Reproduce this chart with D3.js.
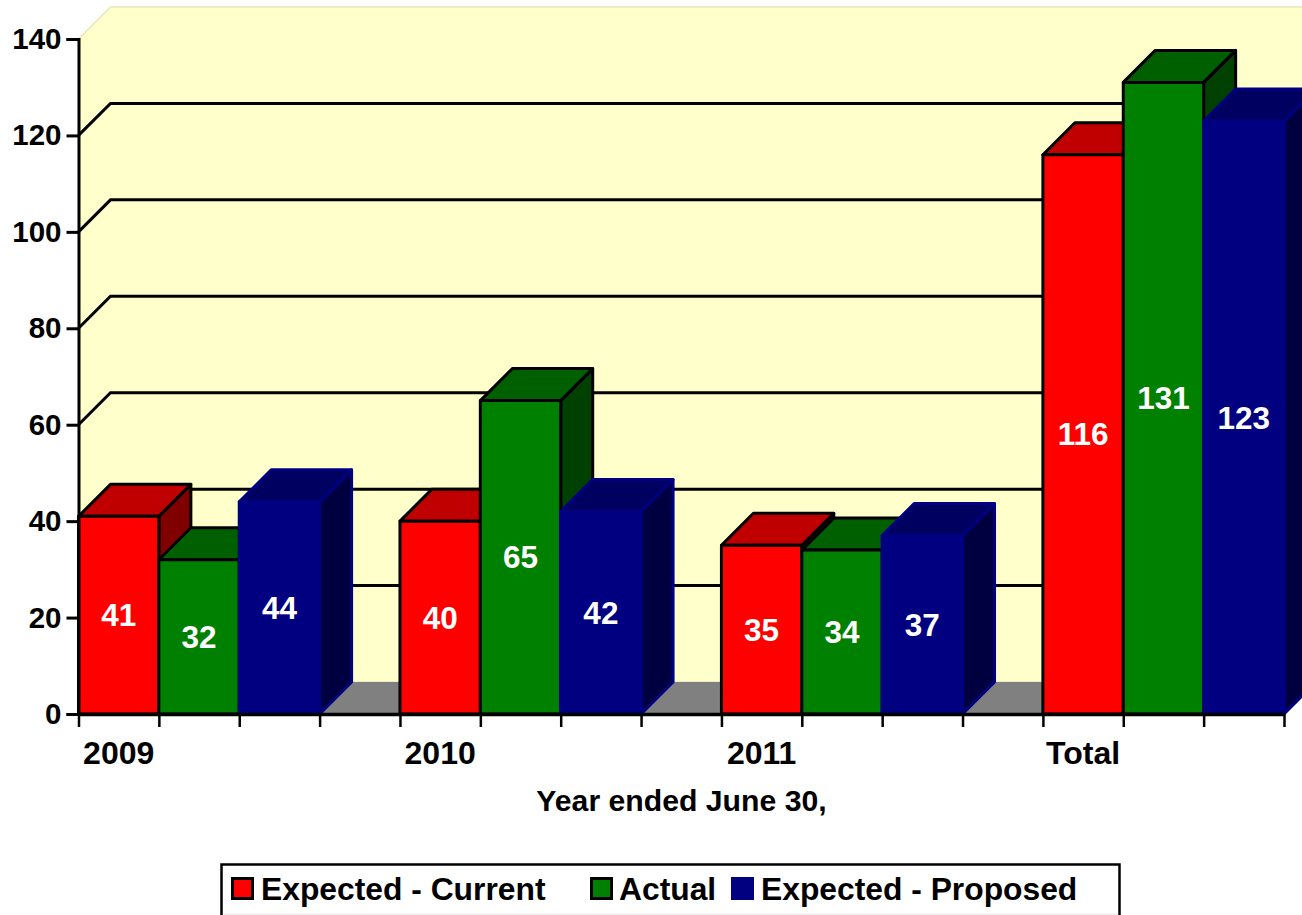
<!DOCTYPE html>
<html>
<head>
<meta charset="utf-8">
<script src="https://cdn.jsdelivr.net/npm/d3@7"></script>
<style>
    html, body { margin: 0; padding: 0; background: #fff; overflow: hidden; }
    svg { display: block; }
    text { font-family: "Liberation Sans", Arial, sans-serif; font-weight: bold; }
</style>
</head>
<body>
<svg id="chart"></svg>
<script>
let width = 1302
let height = 915

let categories = ['2009', '2010', '2011', 'Total']
let series_names = ['Expected - Current', 'Actual', 'Expected - Proposed']
let expected_current = [41, 40, 35, 116]
let actual = [32, 65, 34, 131]
let expected_proposed = [44, 42, 37, 123]
let y_ticks = [0, 20, 40, 60, 80, 100, 120, 140]

let colors = [
    { front: '#ff0000', top: '#c00000', side: '#800000', stroke: '#000000' },
    { front: '#008000', top: '#006000', side: '#004000', stroke: '#000000' },
    { front: '#000080', top: '#000060', side: '#000040', stroke: '#000080' }
]

let depth = 32
let slots = 15 // three bars and one empty slot per category, last one without gap

let svg = d3.select('#chart')
    .attr('width', width)
    .attr('height', height)

let x = d3.scaleLinear()
    .domain([0, slots])
    .range([78.5, 1284])

let y = d3.scaleLinear()
    .domain([0, 140])
    .range([714, 39])

function pts(list) {
    return list.map(p => p.join(',')).join(' ')
}

// back wall, left wall and floor
let right_edge = x(slots) + depth
svg.append('polygon')
    .attr('points', pts([[x(0), y(140)], [x(0) + depth, y(140) - depth], [right_edge, y(140) - depth], [right_edge, y(0) - depth], [x(0) + depth, y(0) - depth], [x(0), y(0)]]))
    .attr('fill', '#ffffcc')
    .attr('stroke', '#e8e8b8')
    .attr('stroke-width', 1.5)

svg.append('polygon')
    .attr('points', pts([[x(0), y(0)], [x(0) + depth, y(0) - depth], [right_edge, y(0) - depth], [x(slots), y(0)]]))
    .attr('fill', '#808080')

// gridlines
svg.append('g')
    .selectAll('polyline')
    .data(y_ticks.filter(d => d > 0 && d < 140))
    .enter().append('polyline')
    .attr('points', d => pts([[x(0), y(d)], [x(0) + depth, y(d) - depth], [right_edge, y(d) - depth]]))
    .attr('fill', 'none')
    .attr('stroke', '#000')
    .attr('stroke-width', 3)

// bars, painted left to right so the later ones cover the earlier ones
let bars = []
categories.forEach((c, i) => {
    [expected_current, actual, expected_proposed].forEach((values, s) => {
        bars.push({ slot: i * 4 + s, value: values[i], color: colors[s] })
    })
})

let bar = svg.append('g')
    .selectAll('g')
    .data(bars)
    .enter().append('g')
    .attr('stroke', d => d.color.stroke)
    .attr('stroke-width', 3)
    .attr('stroke-linejoin', 'round')

bar.append('polygon')
    .attr('fill', d => d.color.side)
    .attr('points', d => {
        let r = x(d.slot + 1), t = y(d.value), b = y(0)
        return pts([[r, t], [r + depth, t - depth], [r + depth, b - depth], [r, b]])
    })

bar.append('polygon')
    .attr('fill', d => d.color.top)
    .attr('points', d => {
        let l = x(d.slot), r = x(d.slot + 1), t = y(d.value)
        return pts([[l, t], [l + depth, t - depth], [r + depth, t - depth], [r, t]])
    })

bar.append('rect')
    .attr('fill', d => d.color.front)
    .attr('x', d => x(d.slot))
    .attr('y', d => y(d.value))
    .attr('width', d => x(d.slot + 1) - x(d.slot))
    .attr('height', d => y(0) - y(d.value))

// value labels
svg.append('g')
    .selectAll('text')
    .data(bars)
    .enter().append('text')
    .attr('x', d => x(d.slot + 0.5))
    .attr('y', d => y(d.value / 2))
    .attr('dy', '0.35em')
    .attr('text-anchor', 'middle')
    .attr('font-size', 31.5)
    .attr('fill', '#fff')
    .text(d => d.value)

// y axis
let axis_y = d3.axisLeft()
    .scale(y)
    .tickValues(y_ticks)
    .tickSize(12)
    .tickPadding(5)
    .tickFormat(d => d)

let g_y = svg.append('g')
    .attr('transform', `translate(${x(0)}, 0)`)
    .call(axis_y)
g_y.selectAll('line').attr('stroke', '#000').attr('stroke-width', 3)
g_y.select('.domain').attr('stroke', '#000').attr('stroke-width', 3)
g_y.selectAll('text')
    .attr('font-size', 29.5)
    .attr('font-family', '"Liberation Sans", Arial, sans-serif')
    .attr('font-weight', 'bold')
    .attr('fill', '#000')

// x axis
let axis_x = d3.axisBottom()
    .scale(x)
    .tickValues(d3.range(slots + 1))
    .tickSize(13)
    .tickSizeOuter(0)
    .tickFormat('')

let g_x = svg.append('g')
    .attr('transform', `translate(0, ${y(0)})`)
    .call(axis_x)
g_x.selectAll('line').attr('stroke', '#000').attr('stroke-width', 2.5)
g_x.select('.domain').attr('stroke', '#000').attr('stroke-width', 3.5)

svg.append('g')
    .selectAll('text')
    .data(categories)
    .enter().append('text')
    .attr('x', (d, i) => x(i * 4 + 0.5))
    .attr('y', 764)
    .attr('text-anchor', 'middle')
    .attr('font-size', 32)
    .attr('fill', '#000')
    .text(d => d)

svg.append('text')
    .attr('x', 681.5)
    .attr('y', 811)
    .attr('text-anchor', 'middle')
    .attr('font-size', 30.2)
    .attr('fill', '#000')
    .text('Year ended June 30,')

// legend
let legend_x = [231, 590, 731]
svg.append('line')
    .attr('x1', 222)
    .attr('x2', 1119)
    .attr('y1', 914)
    .attr('y2', 914)
    .attr('stroke', '#e6e6e6')

svg.append('rect')
    .attr('x', 221.5)
    .attr('y', 864.5)
    .attr('width', 898)
    .attr('height', 60)
    .attr('fill', 'none')
    .attr('stroke', '#000')
    .attr('stroke-width', 2.5)

let legend = svg.append('g')
    .selectAll('g')
    .data(series_names)
    .enter().append('g')
    .attr('transform', (d, i) => `translate(${legend_x[i]}, 0)`)

legend.append('rect')
    .attr('x', 1.5)
    .attr('y', 878.5)
    .attr('width', 20)
    .attr('height', 20)
    .attr('fill', (d, i) => colors[i].front)
    .attr('stroke', (d, i) => colors[i].stroke)
    .attr('stroke-width', 3)

legend.append('text')
    .attr('x', (d, i) => i == 1 ? 29 : 30)
    .attr('y', 900)
    .attr('font-size', 31.8)
    .attr('fill', '#000')
    .text(d => d)
</script>
</body>
</html>
